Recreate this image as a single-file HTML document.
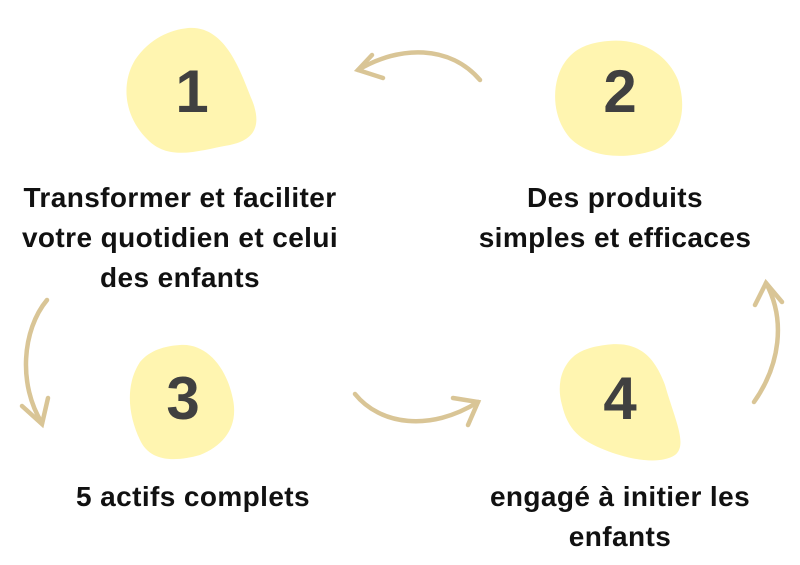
<!DOCTYPE html>
<html><head><meta charset="utf-8"><style>
html,body{margin:0;padding:0;background:#fff;}
body{width:800px;height:565px;position:relative;overflow:hidden;font-family:"Liberation Sans",sans-serif;}
svg{position:absolute;left:0;top:0;}
.t{position:absolute;font-weight:bold;font-size:28px;letter-spacing:0.4px;color:#111;text-align:center;line-height:40px;white-space:nowrap;transform:translateX(-50%);}
</style></head><body>
<svg width="800" height="565" viewBox="0 0 800 565">
<g fill="#FFF5B0">
<path d="M188 28 C225 25 240 70 252 100 C262 125 255 140 230 145 C200 150 170 162 148 140 C125 118 120 85 135 60 C150 38 170 30 188 28Z"/>
<path d="M600 42 C640 35 668 55 678 80 C688 110 680 140 655 150 C625 160 590 158 570 138 C550 115 552 80 565 62 C575 48 588 44 600 42Z"/>
<path d="M180 345 C205 343 225 365 232 395 C240 425 225 445 200 455 C175 462 150 462 140 440 C128 415 125 385 140 362 C150 350 165 346 180 345Z"/>
<path d="M605 345 C640 340 655 358 665 385 C675 420 688 445 675 455 C660 465 630 460 605 450 C580 440 568 430 562 405 C555 380 565 360 580 352 C590 347 598 346 605 345Z"/>
</g>
<g fill="none" stroke="#D9C596" stroke-width="4.5" stroke-linecap="round">
<path d="M480 80 C450 45 400 45 358 70"/>
<path d="M372 55 L358 70 L383 78"/>
<path d="M47 300 C22 330 18 385 42 423"/>
<path d="M22 406 L42 424 L48 398"/>
<path d="M355 394 C380 425 430 432 478 402"/>
<path d="M453 398 L478 402 L468 425"/>
<path d="M754 402 C780 365 786 320 766 283"/>
<path d="M755 305 L766 283 L782 302"/>
</g>
<g font-family="Liberation Sans, sans-serif" font-weight="bold" font-size="60" fill="#404040" text-anchor="middle">
<text x="192" y="112">1</text>
<text x="620" y="112">2</text>
<text x="183" y="419">3</text>
<text x="620" y="419">4</text>
</g>
</svg>
<div class="t" style="left:180px;top:178px;">Transformer et faciliter<br>votre quotidien et celui<br>des enfants</div>
<div class="t" style="left:615px;top:178px;">Des produits<br>simples et efficaces</div>
<div class="t" style="left:193px;top:477px;">5 actifs complets</div>
<div class="t" style="left:620px;top:477px;">engagé à initier les<br>enfants</div>
</body></html>
